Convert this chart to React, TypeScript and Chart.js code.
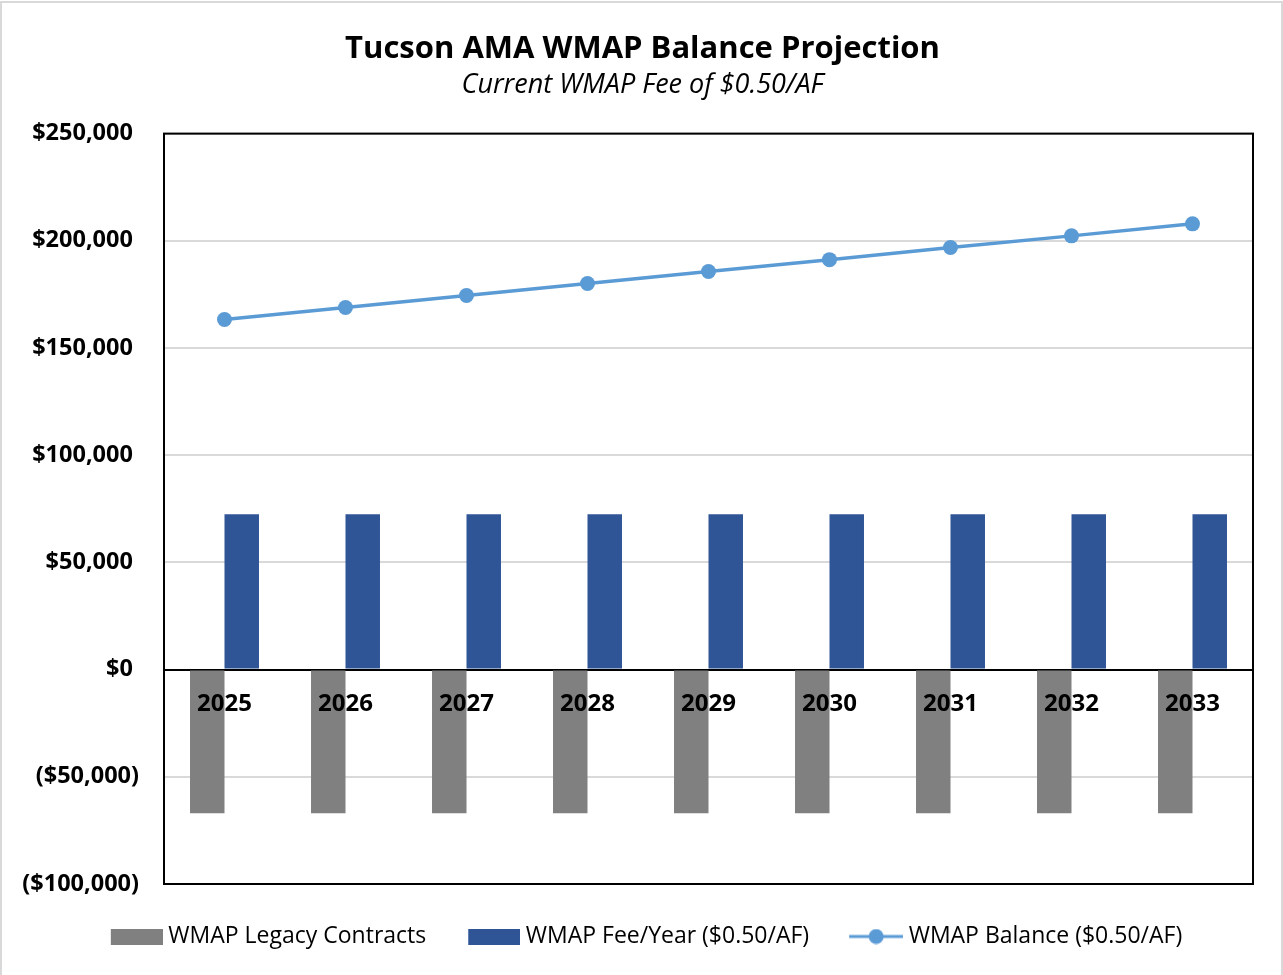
import React, { useEffect, useRef } from "react";
import { Chart, registerables } from "chart.js";

Chart.register(...registerables);

const years = ["2025", "2026", "2027", "2028", "2029", "2030", "2031", "2032", "2033"];
const legacyContracts = [-67000, -67000, -67000, -67000, -67000, -67000, -67000, -67000, -67000];
const feePerYear = [72500, 72500, 72500, 72500, 72500, 72500, 72500, 72500, 72500];
const balance = [163300, 168900, 174500, 180100, 185700, 191200, 196900, 202300, 207900];

const seriesNames = ["WMAP Legacy Contracts", "WMAP Fee/Year ($0.50/AF)", "WMAP Balance ($0.50/AF)"];
const titleText = "Tucson AMA WMAP Balance Projection";
const subtitleText = "Current WMAP Fee of $0.50/AF";

const FONT = "'Open Sans', 'Noto Sans', sans-serif";
const GRAY = "#808080";
const BLUE = "#2F5597";
const LIGHT = "#5B9BD5";

function fmt(v: number): string {
  const s = Math.abs(v).toLocaleString("en-US");
  return v < 0 ? `($${s})` : `$${s} `;
}

// legend markers: 64px wide canvas, visible glyph occupies the right 52px
function makeRectMarker(color: string): HTMLCanvasElement {
  const c = document.createElement("canvas");
  c.width = 64;
  c.height = 16;
  const ctx = c.getContext("2d")!;
  ctx.fillStyle = color;
  ctx.fillRect(12, 0, 52, 16);
  return c;
}

function makeLineMarker(): HTMLCanvasElement {
  const c = document.createElement("canvas");
  c.width = 64;
  c.height = 16;
  const ctx = c.getContext("2d")!;
  ctx.strokeStyle = LIGHT;
  ctx.lineWidth = 3;
  ctx.beginPath();
  ctx.moveTo(10, 8);
  ctx.lineTo(64, 8);
  ctx.stroke();
  ctx.fillStyle = LIGHT;
  ctx.beginPath();
  ctx.arc(37, 8, 7.5, 0, Math.PI * 2);
  ctx.fill();
  return c;
}

const frame = {
  id: "frame",
  afterLayout(chart: any) {
    if (chart.legend) {
      chart.legend.left += 17;
      chart.legend.right += 17;
      chart.legend.top += 5;
      chart.legend.bottom += 5;
    }
    for (const b of chart.boxes) {
      const t = b && b.options && b.options.text;
      if (t === titleText || t === subtitleText) {
        b.left += 16;
        b.right += 16;
      }
    }
  },
  beforeDraw(chart: any) {
    const { ctx, width, height } = chart;
    ctx.save();
    ctx.fillStyle = "#fff";
    ctx.fillRect(0, 0, width, height);
    ctx.strokeStyle = "#d9d9d9";
    ctx.lineWidth = 2;
    ctx.strokeRect(1, 2, width - 2, height + 10);
    ctx.restore();
  },
  afterDatasetsDraw(chart: any) {
    const { ctx, chartArea } = chart;
    ctx.save();
    ctx.strokeStyle = "#000";
    ctx.lineWidth = 2;
    ctx.strokeRect(chartArea.left, chartArea.top, chartArea.right - chartArea.left, chartArea.bottom - chartArea.top);
    ctx.restore();
  },
};

export default function App() {
  const ref = useRef<HTMLCanvasElement>(null);
  useEffect(() => {
    const markers = [makeRectMarker(GRAY), makeRectMarker(BLUE), makeLineMarker()];
    const chart = new Chart(ref.current!, {
      type: "bar",
      data: {
        labels: years,
        datasets: [
          { label: seriesNames[0], data: legacyContracts, backgroundColor: GRAY, borderWidth: 0 },
          { label: seriesNames[1], data: feePerYear, backgroundColor: BLUE, borderWidth: 0 },
          {
            type: "line",
            label: seriesNames[2],
            data: balance,
            borderColor: LIGHT,
            backgroundColor: LIGHT,
            borderWidth: 3.5,
            pointRadius: 7.5,
            pointBackgroundColor: LIGHT,
            pointBorderWidth: 0,
            fill: false,
            tension: 0,
          } as any,
        ],
      },
      options: {
        responsive: false,
        animation: false,
        categoryPercentage: 0.57,
        barPercentage: 1.0,
        layout: { padding: { left: 0, right: 30, top: 0, bottom: 22 } },
        plugins: {
          tooltip: { enabled: false },
          title: {
            display: true,
            text: titleText,
            color: "#000",
            font: { family: FONT, size: 31, weight: "bold" },
            padding: { top: 31, bottom: 0 },
          },
          subtitle: {
            display: true,
            text: subtitleText,
            color: "#000",
            font: { family: FONT, size: 27, style: "italic" },
            padding: { top: 1, bottom: 32 },
          },
          legend: {
            position: "bottom",
            labels: {
              usePointStyle: true,
              pointStyleWidth: 52,
              boxHeight: 16,
              padding: 36,
              color: "#000",
              font: { family: FONT, size: 23 },
              generateLabels(chart: any) {
                const items = Chart.defaults.plugins.legend.labels.generateLabels(chart);
                return items.map((it: any, i: number) => ({ ...it, pointStyle: markers[i], lineWidth: 0 }));
              },
            },
          },
        },
        scales: {
          x: {
            position: { y: 0 } as any,
            offset: true,
            grid: { display: false, drawTicks: false },
            border: { display: false },
            ticks: {
              z: 1,
              color: "#000",
              font: { family: FONT, size: 24, weight: "bold" },
              padding: 20,
            },
            afterFit(scale: any) {
              scale.height = 0;
            },
          },
          y: {
            min: -100000,
            max: 250000,
            grid: {
              drawTicks: false,
              lineWidth: 2,
              color: (c: any) => (c.tick && c.tick.value === 0 ? "#000" : "#d9d9d9"),
            },
            border: { display: false },
            ticks: {
              stepSize: 50000,
              padding: 25,
              color: "#000",
              font: { family: FONT, size: 23.5, weight: "bold" },
              callback: (v: any) => fmt(Number(v)),
            },
            afterFit(scale: any) {
              scale.width = 164;
            },
          },
        },
      } as any,
      plugins: [frame],
    });
    return () => chart.destroy();
  }, []);
  return (
    <div style={{ position: "absolute", left: 0, top: 0, width: 1283, height: 975 }}>
      <canvas ref={ref} width={1283} height={975} />
    </div>
  );
}
